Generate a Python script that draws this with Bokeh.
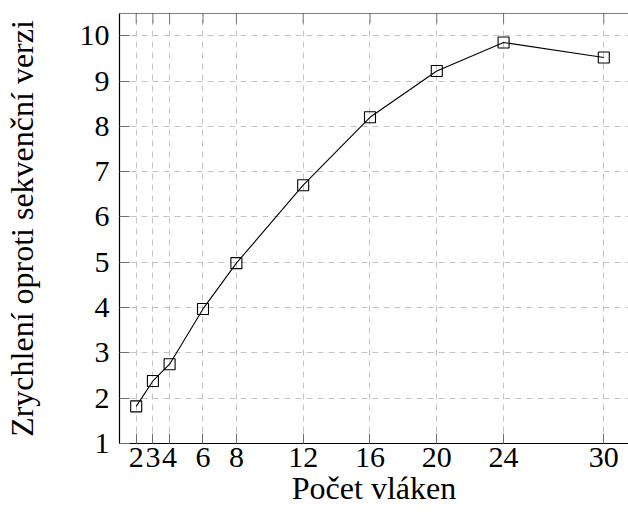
import math
from bokeh.plotting import figure
from bokeh.models import LinearAxis, FixedTicker, Range1d, Span
from bokeh.embed import file_html
from bokeh.resources import INLINE

threads = [2, 3, 4, 6, 8, 12, 16, 20, 24, 30]
speedup = [1.82, 2.38, 2.75, 3.97, 4.98, 6.70, 8.20, 9.22, 9.85, 9.52]
x_ticks = [2, 3, 4, 6, 8, 12, 16, 20, 24, 30]
y_ticks = [1, 2, 3, 4, 5, 6, 7, 8, 9, 10]
x_title = "Počet vláken"
y_title = "Zrychlení oproti sekvenční verzi"

FONT = "Liberation Serif"
X_MIN, X_MAX = 1, 31.48
Y_MIN, Y_MAX = 1, 10.49

p = figure(width=628, height=516, output_backend="svg", toolbar_location=None,
           x_range=Range1d(X_MIN, X_MAX), y_range=Range1d(Y_MIN, Y_MAX),
           min_border_left=118, min_border_top=13, min_border_right=0, min_border_bottom=73,
           x_axis_location=None, y_axis_location=None)
p.outline_line_color = None
p.background_fill_color = "white"
p.border_fill_color = "white"

xaxis = LinearAxis(ticker=FixedTicker(ticks=x_ticks), axis_label=x_title)
yaxis = LinearAxis(ticker=FixedTicker(ticks=y_ticks), axis_label=y_title)
for ax in (xaxis, yaxis):
    ax.major_tick_in = 10
    ax.major_tick_out = 0
    ax.minor_tick_line_color = None
    ax.major_tick_line_color = "#707070"
    ax.axis_line_color = "black"
    ax.axis_line_width = 1.2
    ax.major_label_text_font = FONT
    ax.major_label_text_font_size = "30px"
    ax.major_label_text_color = "black"
    ax.axis_label_text_font = FONT
    ax.axis_label_text_font_size = "32px"
    ax.axis_label_text_font_style = "normal"
    ax.axis_label_text_color = "black"
xaxis.major_label_standoff = 4
xaxis.axis_label_standoff = 0
yaxis.major_label_standoff = 10
yaxis.axis_label_standoff = 37
p.add_layout(xaxis, "below")
p.add_layout(yaxis, "left")

p.xgrid.ticker = FixedTicker(ticks=x_ticks)
p.ygrid.ticker = FixedTicker(ticks=y_ticks)
p.grid.grid_line_color = "#c4c4c4"
p.grid.grid_line_dash = "6 5"
p.grid.grid_line_width = 1

# top frame line and inward tick marks on the top edge
p.add_layout(Span(location=Y_MAX, dimension="width", line_color="black", line_width=1.2))
p.scatter(x_ticks, [Y_MAX] * len(x_ticks), marker="dash", angle=math.pi / 2, size=20,
          line_color="#707070", line_width=1)

p.line(threads, speedup, line_color="black", line_width=1.1)
p.scatter(threads, speedup, marker="square", size=11, fill_alpha=0,
          line_color="black", line_width=1.1)

open("out.html", "w").write(file_html(p, INLINE))
